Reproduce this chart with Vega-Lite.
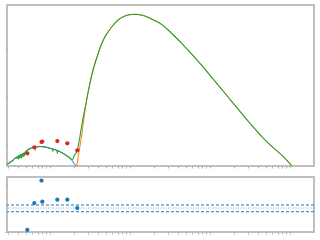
{
  "$schema": "https://vega.github.io/schema/vega-lite/v6.json",
  "background": "white",
  "padding": {"left": 3, "top": 4, "right": 5, "bottom": 5},
  "spacing": 11,
  "bounds": "flush",
  "config": {
    "view": {"stroke": "#bfbfbf", "strokeWidth": 2},
    "axis": {"labels": false, "title": null, "domain": false, "grid": false, "tickColor": "#b0b0b0", "tickSize": 2, "tickWidth": 1}
  },
  "datasets": {
    "comp1": [{"x":0.2925,"y":0.598},{"x":0.3162,"y":0.635},{"x":0.3477,"y":0.6875},{"x":0.3758,"y":0.74},{"x":0.4097,"y":0.781},{"x":0.4467,"y":0.8125},{"x":0.487,"y":0.844},{"x":0.5114,"y":0.885},{"x":0.5623,"y":0.927},{"x":0.6184,"y":0.948},{"x":0.6494,"y":0.952},{"x":0.7499,"y":0.969},{"x":0.866,"y":0.958},{"x":1.0,"y":0.931},{"x":1.0933,"y":0.9125},{"x":1.2445,"y":0.883},{"x":1.3335,"y":0.86},{"x":1.4666,"y":0.823},{"x":1.617,"y":0.777},{"x":1.7783,"y":0.723},{"x":1.8836,"y":0.677},{"x":1.9953,"y":0.619},{"x":2.1135,"y":0.5625},{"x":2.15,"y":0.53}],
    "comp2": [{"x":2.126,"y":0.5},{"x":2.2387,"y":0.729},{"x":2.3714,"y":0.979},{"x":2.5119,"y":1.25},{"x":2.6607,"y":1.5625},{"x":2.8184,"y":1.854},{"x":2.9007,"y":1.979},{"x":3.1623,"y":2.292},{"x":3.4475,"y":2.5625},{"x":3.8352,"y":2.8125},{"x":4.217,"y":3.021},{"x":4.6375,"y":3.1875},{"x":5.3088,"y":3.354},{"x":6.1837,"y":3.5},{"x":7.0795,"y":3.604},{"x":8.2471,"y":3.673},{"x":9.7163,"y":3.7125},{"x":11.548,"y":3.723},{"x":13.725,"y":3.708},{"x":16.17,"y":3.673},{"x":17.783,"y":3.64},{"x":23.714,"y":3.535},{"x":31.623,"y":3.36},{"x":46.375,"y":3.083},{"x":74.989,"y":2.702},{"x":121.28,"y":2.285},{"x":195.6,"y":1.869},{"x":316.23,"y":1.452},{"x":511.4,"y":1.069},{"x":824.7,"y":0.756},{"x":1050.1,"y":0.569}],
    "total": [{"x":0.2925,"y":0.598},{"x":0.3162,"y":0.635},{"x":0.3477,"y":0.6875},{"x":0.3758,"y":0.74},{"x":0.3868,"y":0.719},{"x":0.3924,"y":0.76},{"x":0.4039,"y":0.708},{"x":0.4097,"y":0.781},{"x":0.4217,"y":0.729},{"x":0.4278,"y":0.792},{"x":0.4403,"y":0.729},{"x":0.4467,"y":0.8125},{"x":0.4597,"y":0.75},{"x":0.4664,"y":0.833},{"x":0.48,"y":0.771},{"x":0.487,"y":0.844},{"x":0.5114,"y":0.885},{"x":0.5623,"y":0.927},{"x":0.6184,"y":0.948},{"x":0.6494,"y":0.952},{"x":0.655,"y":0.896},{"x":0.6607,"y":0.954},{"x":0.7499,"y":0.969},{"x":0.866,"y":0.958},{"x":1.0,"y":0.931},{"x":1.0746,"y":0.917},{"x":1.0839,"y":0.865},{"x":1.0933,"y":0.9125},{"x":1.2235,"y":0.885},{"x":1.2341,"y":0.823},{"x":1.2445,"y":0.883},{"x":1.3335,"y":0.86},{"x":1.4666,"y":0.823},{"x":1.617,"y":0.777},{"x":1.7783,"y":0.729},{"x":1.8668,"y":0.698},{"x":1.91,"y":0.694},{"x":1.9953,"y":0.771},{"x":2.1935,"y":0.89},{"x":2.3714,"y":1.1875},{"x":2.6082,"y":1.59},{"x":2.7384,"y":1.76},{"x":2.9007,"y":1.979},{"x":3.1623,"y":2.292},{"x":3.4475,"y":2.5625},{"x":3.8352,"y":2.8125},{"x":4.217,"y":3.021},{"x":4.6375,"y":3.1875},{"x":5.3088,"y":3.354},{"x":6.1837,"y":3.5},{"x":7.0795,"y":3.604},{"x":8.2471,"y":3.673},{"x":9.7163,"y":3.7125},{"x":11.548,"y":3.723},{"x":13.725,"y":3.708},{"x":16.17,"y":3.673},{"x":17.783,"y":3.64},{"x":23.714,"y":3.535},{"x":31.623,"y":3.36},{"x":46.375,"y":3.083},{"x":74.989,"y":2.702},{"x":121.28,"y":2.285},{"x":195.6,"y":1.869},{"x":316.23,"y":1.452},{"x":511.4,"y":1.069},{"x":824.7,"y":0.756},{"x":1050.1,"y":0.569}],
    "obs": [{"x":0.5203,"y":0.827,"r":-0.931},{"x":0.6365,"y":0.952,"r":0.215},{"x":0.783,"y":1.0625,"r":1.172},{"x":0.8012,"y":1.073,"r":0.27},{"x":1.2341,"y":1.083,"r":0.356},{"x":1.6453,"y":1.035,"r":0.356},{"x":2.1935,"y":0.89,"r":0.0}],
    "bands": [{"y":0.13,"kind":"dashed"},{"y":-0.155,"kind":"dashed"},{"y":0,"kind":"dotted"}]
  },
  "vconcat": [
    {
      "width": 307,
      "height": 161,
      "encoding": {
        "x": {"field": "x", "type": "quantitative", "scale": {"type": "log", "domain": [0.29, 1995], "nice": false}, "axis": {"values": [0.3,0.4,0.5,0.6,0.7,0.8,0.9,1,2,3,4,5,6,7,8,9,10,20,30,40,50,60,70,80,90,100,200,300,400,500,600,700,800,900,1000]}},
        "y": {"field": "y", "type": "quantitative", "scale": {"domain": [0.5625, 3.9167], "nice": false, "zero": false}, "axis": {"values": [1, 2, 3]}}
      },
      "layer": [
        {"data": {"name": "comp1"}, "mark": {"type": "line", "color": "#1f77b4", "strokeWidth": 1, "clip": true, "interpolate": "monotone"}},
        {"data": {"name": "comp2"}, "mark": {"type": "line", "color": "#ff7f0e", "strokeWidth": 1, "clip": true, "interpolate": "monotone"}},
        {"data": {"name": "total"}, "mark": {"type": "line", "color": "#2ca02c", "strokeWidth": 1.1, "clip": true, "interpolate": "monotone"}},
        {"data": {"name": "obs"}, "mark": {"type": "point", "filled": true, "color": "#d62728", "opacity": 1, "size": 18}}
      ]
    },
    {
      "width": 307,
      "height": 55,
      "layer": [
        {"data": {"name": "bands"}, "transform": [{"filter": "datum.kind === 'dashed'"}], "mark": {"type": "rule", "color": "#1f77b4", "strokeWidth": 1, "strokeDash": [3, 2]}, "encoding": {"y": {"field": "y", "type": "quantitative", "scale": {"domain": [-1.017, 1.322], "nice": false, "zero": false}, "axis": {"values": [-1, 0, 1]}}}},
        {"data": {"name": "bands"}, "transform": [{"filter": "datum.kind === 'dotted'"}], "mark": {"type": "rule", "color": "#5b9bd0", "opacity": 0.85, "strokeWidth": 1, "strokeDash": [1, 1.5]}, "encoding": {"y": {"field": "y", "type": "quantitative"}}},
        {"data": {"name": "obs"}, "mark": {"type": "point", "filled": true, "color": "#1f77b4", "opacity": 1, "size": 18},
         "encoding": {
           "x": {"field": "x", "type": "quantitative", "scale": {"type": "log", "domain": [0.29, 1995], "nice": false}, "axis": {"values": [0.3,0.4,0.5,0.6,0.7,0.8,0.9,1,2,3,4,5,6,7,8,9,10,20,30,40,50,60,70,80,90,100,200,300,400,500,600,700,800,900,1000]}},
           "y": {"field": "r", "type": "quantitative"}}}
      ]
    }
  ]
}
